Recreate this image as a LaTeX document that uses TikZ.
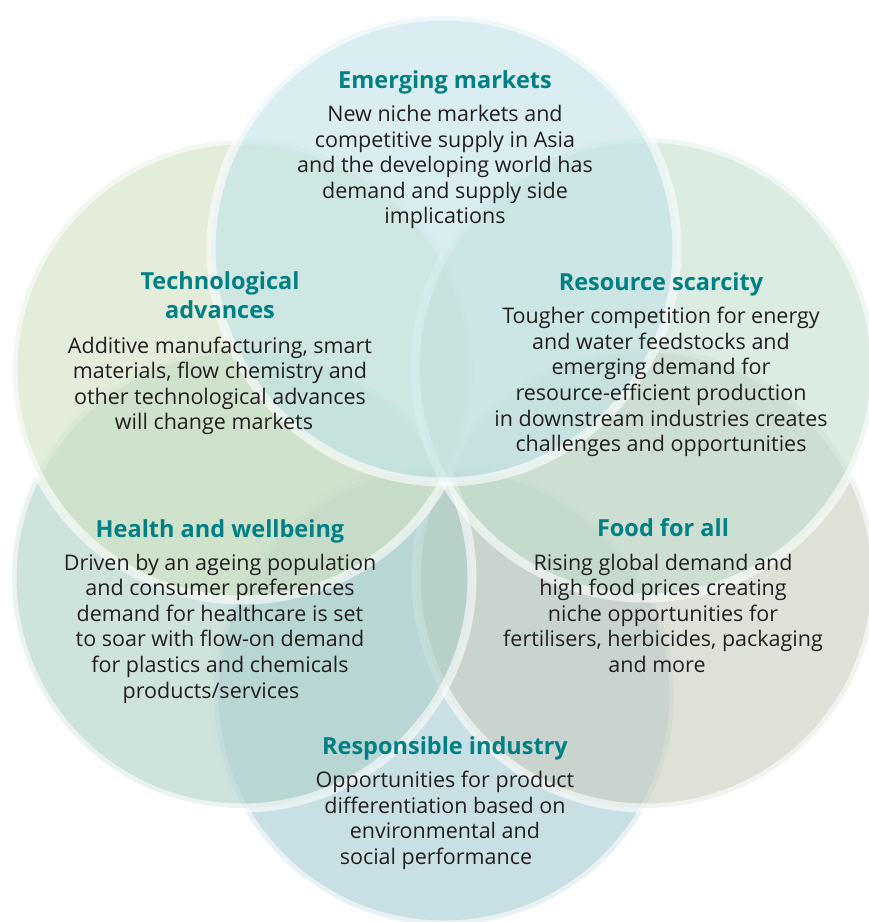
\documentclass[tikz,border=0pt]{standalone}
\usepackage{fontspec}
\setmainfont{Open Sans}
\usetikzlibrary{positioning}
\definecolor{titleteal}{RGB}{0,128,132}
\definecolor{bodygrey}{RGB}{35,31,32}
\definecolor{emergingfill}{RGB}{193,227,232}
\definecolor{technofill}{RGB}{208,225,193}
\definecolor{resourcefill}{RGB}{195,223,207}
\definecolor{healthfill}{RGB}{173,208,200}
\definecolor{foodfill}{RGB}{200,205,190}
\definecolor{industryfill}{RGB}{163,203,210}

\begin{document}
\begin{tikzpicture}[x=1pt, y=-1pt,
  petal/.style={fill opacity=0.6, draw=white, draw opacity=0.6, line width=9pt},
  head/.style={font=\bfseries\fontsize{23.5}{29}\selectfont, text=titleteal, align=center, inner sep=0pt},
  body/.style={font=\fontsize{21.5}{25.6}\selectfont, text=bodygrey, align=center, inner sep=0pt}]
\useasboundingbox (0,0) rectangle (869,922);
\path[petal, fill=industryfill] (444,695) circle (230pt);
\path[petal, fill=foodfill] (646,578) circle (230pt);
\path[petal, fill=healthfill] (242,578) circle (230pt);
\path[petal, fill=technofill] (243,370) circle (230pt);
\path[petal, fill=resourcefill] (645,368) circle (230pt);
\path[petal, fill=emergingfill] (444,249) circle (233pt);

\node[head, anchor=base] (emergingtitle) at (445,88) {Emerging markets};
\node[body, below=17pt of emergingtitle.base] (emergingtext) {New niche markets and\\competitive supply in Asia\\and the developing world has\\demand and supply side\\implications};

\node[head, anchor=south] (technotitle) at (220,319) {Technological\\advances};
\node[body, below=17.5pt of technotitle.south] (technotext) {Additive manufacturing, smart\\materials, flow chemistry and\\other technological advances\\will change markets\hspace*{12pt}};

\node[head, anchor=base] (resourcetitle) at (661,290) {Resource scarcity};
\node[body, below=17pt of resourcetitle.base] (resourcetext) {Tougher competition for energy\\and water feedstocks and\\emerging demand for\\resource-efficient production\\in downstream industries creates\\challenges and opportunities};

\node[head, anchor=base] (healthtitle) at (220,537) {Health and wellbeing};
\node[body, below=16.5pt of healthtitle.base] (healthtext) {Driven by an ageing population\\and consumer preferences\\demand for healthcare is set\\to soar with flow-on demand\\for plastics and chemicals\\products/services\hspace*{18pt}};

\node[head, anchor=base] (foodtitle) at (663,536) {Food for all};
\node[body, below=17.5pt of foodtitle.base] (foodtext) {Rising global demand and\\high food prices creating\\niche opportunities for\\fertilisers, herbicides, packaging\\and more\hspace*{12pt}};

\node[head, anchor=base] (industrytitle) at (445,754) {Responsible industry};
\node[body, below=17pt of industrytitle.base] (industrytext) {Opportunities for product\\differentiation based on\\environmental and\\social performance\hspace*{18pt}};
\end{tikzpicture}
\end{document}
